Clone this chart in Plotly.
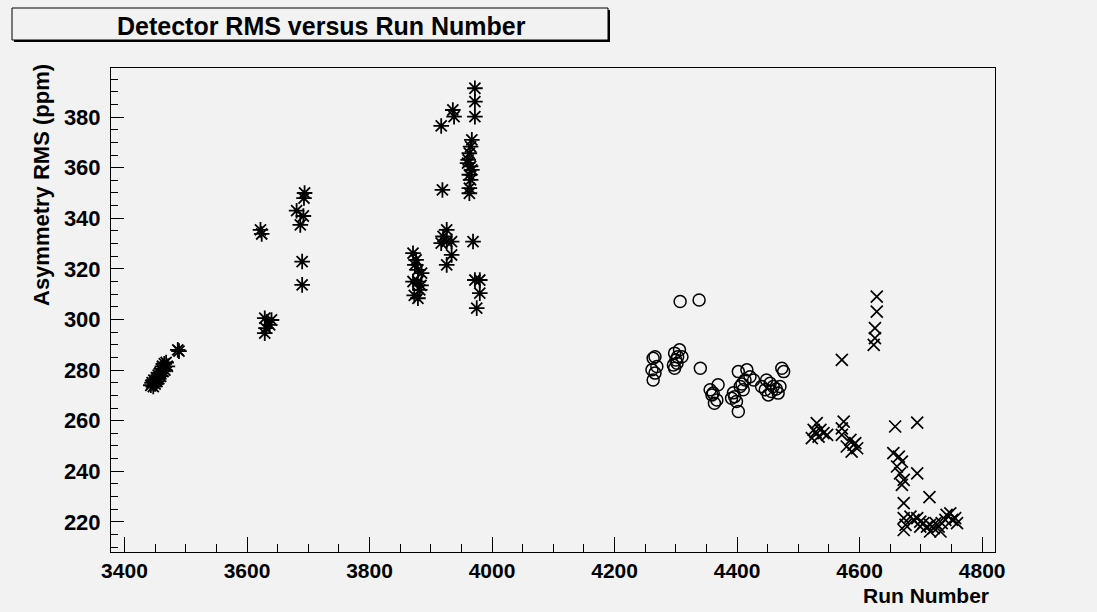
import plotly.graph_objects as go

# ---- data (run number, asymmetry RMS in ppm) ----
star_runs = [3443, 3445, 3447, 3448, 3450, 3452, 3453, 3455, 3456, 3458, 3459, 3460, 3462, 3463,
             3465, 3466, 3468, 3470, 3487, 3489,
             3622, 3624, 3629, 3640, 3631, 3629, 3637,
             3694, 3693, 3681, 3692, 3687, 3690, 3690,
             3871, 3874, 3879, 3885, 3871, 3879, 3882, 3879, 3876, 3884, 3873,
             3926, 3920, 3917, 3926, 3934, 3934, 3926, 3969, 3919, 3917, 3936, 3938,
             3972, 3972, 3972,
             3967, 3965, 3963, 3961, 3960, 3965, 3967, 3963, 3965, 3963, 3963,
             3972, 3980, 3980, 3975]
star_rms = [274.0, 275.0, 273.5, 276.0, 274.5, 277.0, 275.5, 278.0, 276.5, 279.0, 277.5, 280.5, 281.5, 279.5,
            282.5, 280.0, 283.0, 281.5, 288.0, 287.5,
            335.4, 333.8, 300.5, 299.8, 296.6, 294.6, 297.9,
            350.0, 348.0, 343.0, 340.9, 337.4, 322.9, 313.7,
            326.2, 321.6, 319.6, 318.3, 315.0, 315.0, 311.7, 308.4, 323.6, 313.5, 309.5,
            335.4, 332.8, 330.2, 330.8, 330.8, 325.5, 321.6, 330.8, 351.2, 376.5, 382.8, 380.2,
            391.4, 386.1, 380.2,
            371.0, 368.3, 365.7, 363.1, 361.8, 360.5, 359.1, 357.2, 355.2, 351.9, 349.9,
            315.6, 315.6, 310.4, 304.5]

circle_runs = [4307, 4338,
               4263, 4266, 4261, 4266, 4263, 4269,
               4298, 4306, 4303, 4300, 4296, 4298, 4302, 4310, 4340,
               4356, 4359, 4367, 4369, 4363, 4361,
               4396, 4391, 4402, 4416, 4399, 4402, 4405, 4413, 4421, 4427, 4410, 4394, 4408,
               4448, 4454, 4446, 4451, 4459, 4470, 4467, 4473, 4476, 4440, 4456, 4464]
circle_rms = [307.1, 307.7,
              284.7, 285.3, 280.1, 278.8, 276.1, 281.4,
              286.7, 288.0, 285.3, 284.0, 282.0, 280.7, 282.7, 285.3, 280.7,
              272.2, 270.2, 268.2, 274.2, 266.9, 270.9,
              269.5, 268.9, 279.4, 280.1, 267.6, 263.6, 273.5, 276.1, 277.4, 276.1, 272.2, 271.0, 274.5,
              276.1, 274.8, 272.2, 270.2, 273.5, 273.5, 270.9, 280.7, 279.4, 273.5, 271.5, 272.5]

x_runs = [4628, 4628, 4625, 4625, 4623, 4571,
          4530, 4525, 4536, 4541, 4522, 4533, 4547, 4528,
          4574, 4571, 4571, 4585, 4593, 4579, 4596, 4587, 4590,
          4658, 4694,
          4655, 4664, 4669, 4661, 4666, 4672, 4694, 4669,
          4672, 4714,
          4672, 4675, 4683, 4688, 4694, 4699, 4704, 4710, 4715, 4721, 4724, 4729, 4734,
          4740, 4742, 4748, 4751, 4756, 4759, 4672, 4715, 4699, 4732]
x_rms = [309.0, 303.1, 296.6, 292.6, 290.0, 284.0,
         259.0, 256.4, 256.4, 255.1, 253.1, 253.7, 254.4, 255.5,
         259.6, 257.0, 254.4, 252.4, 251.1, 249.8, 249.1, 247.8, 250.5,
         257.7, 259.2,
         247.2, 245.8, 243.8, 241.9, 239.2, 236.6, 239.2, 234.6,
         227.4, 229.8,
         221.5, 218.8, 222.1, 220.8, 221.5, 220.1, 219.5, 218.1, 218.8, 217.5, 219.5, 218.1, 219.5,
         220.8, 222.8, 223.4, 220.8, 221.5, 219.5, 216.8, 216.2, 218.1, 216.2]

title_text = "Detector RMS versus Run Number"
x_title = "Run Number"
y_title = "Asymmetry RMS (ppm)"

BG = "#f2f2f2"
FONT = "Liberation Sans"

fig = go.Figure()
fig.add_trace(go.Scatter(x=star_runs, y=star_rms, mode="markers",
                         marker=dict(symbol="asterisk-open", size=13, color="black",
                                     line=dict(color="black", width=1.8))))
fig.add_trace(go.Scatter(x=circle_runs, y=circle_rms, mode="markers",
                         marker=dict(symbol="circle-open", size=12, color="black",
                                     line=dict(color="black", width=1.5))))
fig.add_trace(go.Scatter(x=x_runs, y=x_rms, mode="markers",
                         marker=dict(symbol="x-thin-open", size=12, color="black",
                                     line=dict(color="black", width=1.7))))

L, R, T, B = 111, 102, 68, 60
W, H = 1097, 612
pw, ph = W - L - R, H - T - B


def px(xp):
    return (xp - L) / pw


def py(yp):
    return (H - B - yp) / ph


fig.update_layout(
    width=W, height=H,
    margin=dict(l=L, r=R, t=T, b=B),
    paper_bgcolor=BG, plot_bgcolor=BG,
    showlegend=False,
    font=dict(family=FONT, color="black", size=21, weight="bold"),
    xaxis=dict(range=[3378, 4821], showgrid=False, zeroline=False,
               tick0=3400, dtick=200, ticks="inside", ticklen=15, tickwidth=1, tickcolor="black",
               minor=dict(dtick=50, ticks="inside", ticklen=8, tickwidth=1, tickcolor="black", showgrid=False),
               showline=True, linecolor="black", linewidth=1, mirror=True,
               ticklabelstandoff=0,
               tickfont=dict(family=FONT, size=21, weight="bold")),
    yaxis=dict(range=[208.1, 399.4], showgrid=False, zeroline=False,
               tick0=220, dtick=20, ticks="inside", ticklen=13, tickwidth=1, tickcolor="black",
               minor=dict(dtick=5, ticks="inside", ticklen=7, tickwidth=1, tickcolor="black", showgrid=False),
               showline=True, linecolor="black", linewidth=1, mirror=True,
               ticklabelstandoff=5,
               tickfont=dict(family=FONT, size=22, weight="bold")),
)

# title box with shadow
fig.add_shape(type="rect", xref="paper", yref="paper",
              x0=px(14), x1=px(610), y0=py(42), y1=py(10),
              line=dict(color="black", width=0), fillcolor="black", layer="above")
fig.add_shape(type="rect", xref="paper", yref="paper",
              x0=px(12), x1=px(608), y0=py(40), y1=py(8),
              line=dict(color="black", width=1), fillcolor=BG, layer="above")
fig.add_annotation(text=title_text, xref="paper", yref="paper", x=px(321), y=py(26),
                   xanchor="center", yanchor="middle", showarrow=False,
                   font=dict(family=FONT, size=25, weight="bold", color="black"))
fig.add_annotation(text=x_title, xref="paper", yref="paper", x=px(991), y=py(595),
                   xanchor="right", yanchor="middle", showarrow=False,
                   font=dict(family=FONT, size=21, weight="bold", color="black"))
fig.add_annotation(text=y_title, xref="paper", yref="paper", x=px(42), y=py(62),
                   xanchor="center", yanchor="top", textangle=-90, showarrow=False,
                   font=dict(family=FONT, size=22, weight="bold", color="black"))

fig.write_html("out.html")
